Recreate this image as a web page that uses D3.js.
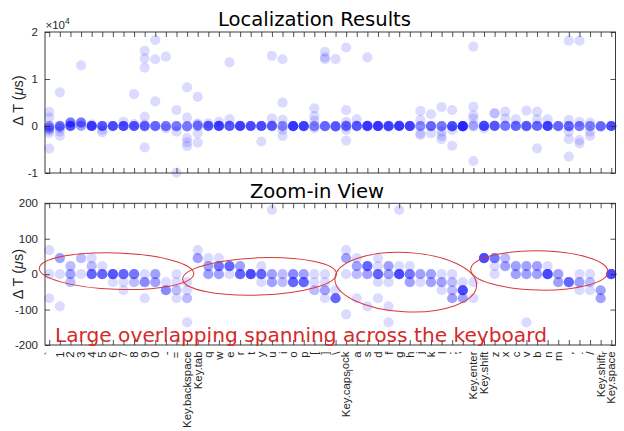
<!DOCTYPE html>
<html><head><meta charset="utf-8">
<script src="https://cdn.jsdelivr.net/npm/d3@7"></script>
<style>body{margin:0;background:#fff} svg{display:block}</style>
</head><body><svg id="c" width="624" height="431"></svg>
<script>
// ---------------- DATA ----------------
const keys = ["`","1","2","3","4","5","6","7","8","9","0","-","=","Key.backspace","Key.tab",
  "q","w","e","r","t","y","u","i","o","p","[","]","\\","Key.caps_lock",
  "a","s","d","f","g","h","j","k","l",";","'","Key.enter","Key.shift",
  "z","x","c","v","b","n","m",",",".","/","Key.shift_r","Key.space"];

// near-zero time differences (µs) per key, as [value, number of samples]
const nearZero = [
  [[68,1],[0,1],[-68,1],[-250,1],[-400,1],[-550,1],[-700,1]],
  [[45.4,3],[0,1],[-90.7,1],[-300,1],[-500,1]],
  [[22.7,2],[0,3],[-22.7,2],[650,1],[700,2],[750,1],[800,1]],
  [[45.4,2],[0,1],[650,1],[700,2],[750,1],[800,1]],
  [[45.4,1],[22.7,2],[0,6],[300,1]],
  [[22.7,1],[0,6]],
  [[0,7],[-22.7,1]],
  [[0,6],[-22.7,1],[-45.4,1]],
  [[0,5],[-22.7,2],[400,1]],
  [[0,1],[-22.7,4],[-68,1],[300,1]],
  [[0,3],[-22.7,3]],
  [[-22.7,1],[-45.4,4]],
  [[0,1],[-22.7,1],[-45.4,2],[-68,1]],
  [[-22.7,1],[-45.4,1],[-68,2],[-136.1,1]],
  [[68,1],[45.4,3],[300,1],[500,1]],
  [[45.4,1],[22.7,3],[0,3]],
  [[45.4,1],[22.7,5],[0,3]],
  [[22.7,6],[0,1]],
  [[22.7,3],[0,6]],
  [[0,8]],
  [[22.7,1],[0,6],[-22.7,1]],
  [[181.4,1],[0,3],[-22.7,3]],
  [[0,2],[-22.7,2]],
  [[0,4],[-22.7,6]],
  [[0,3],[-22.7,6]],
  [[0,1],[-22.7,1],[-45.4,2]],
  [[0,1],[-22.7,1],[-45.4,3],[-68,1]],
  [[-45.4,1],[-68,6]],
  [[68,1],[45.4,3],[0,1],[-113.4,1]],
  [[45.4,1],[22.7,3],[0,2],[-68,1]],
  [[22.7,6],[0,3],[-90.7,1]],
  [[45.4,1],[22.7,1],[0,6],[-22.7,1],[-68,1]],
  [[22.7,3],[0,3],[-22.7,1],[-90.7,1],[-136.1,1]],
  [[181.4,1],[22.7,1],[0,8]],
  [[22.7,1],[0,5],[-22.7,3]],
  [[0,3],[-22.7,1]],
  [[0,3],[-22.7,3]],
  [[0,1],[-22.7,3],[-45.4,1]],
  [[0,1],[-22.7,2],[-45.4,2],[-68,3]],
  [[-22.7,1],[-45.4,8],[-68,3]],
  [[-22.7,1],[-68,1]],
  [[45.4,8]],
  [[45.4,5],[22.7,1],[0,1]],
  [[45.4,2],[22.7,3]],
  [[22.7,3],[0,3]],
  [[22.7,3],[0,3],[-136.1,1]],
  [[22.7,3],[0,3]],
  [[22.7,1],[0,8]],
  [[0,3],[-22.7,3]],
  [[-22.7,6]],
  [[0,1],[-22.7,3],[-45.4,1]],
  [[0,1],[-22.7,2],[-45.4,1]],
  [[-45.4,3],[-68,3]],
  [[0,8]]
];

// large time differences (µs) per key
const outliers = [
  [3000,1800,-1000,-1500,-4800],
  [7160,-1200,-2100],
  [],
  [12900],
  [],
  [-850,-1350],
  [],
  [900],
  [6800],
  [16000,14400,12400,2000,-4540],
  [18300,14200,5250],
  [14750,-500],
  [3400,-1200,-9900],
  [8200,1800,-2600,-3500,-4300],
  [6200,-1560,-3550],
  [570],
  [900],
  [13550,1400],
  [],
  [],
  [-3300],
  [14900,1600],
  [14200,4960,1300,-850,-2100],
  [],
  [],
  [3760,2100,1100,-500],
  [15800,14600,14250],
  [14250],
  [16700,3400,900,-850,-3100],
  [1400],
  [14600],
  [],
  [],
  [],
  [],
  [3200,1300,-1560,-1900],
  [2500,-1560],
  [4000,-1200,-2100,-2800],
  [3400,-850,-4200],
  [],
  [16900,4100,2300,1600,250,-7450],
  [-500],
  [2700,2700],
  [3050,1600],
  [1400],
  [3260],
  [3050,1400,-4750],
  [1400],
  [],
  [18150,1300,-1200,-2800,-6500],
  [18150,900,-3000,-3700],
  [700,-1200,-2100],
  [],
  []
];

const topTicks = [-10000, 0, 10000, 20000];
const zoomTicks = [-200, -100, 0, 100, 200];

// annotation ellipses in data units: centre (key index, µs), radii (keys, µs), tilt (deg)
const ellipses = [
  {ci: 6.35, cv: 8.5,  ri: 7.29, rv: 51.5, tilt: 2},
  {ci: 19.83, cv: -6.5, ri: 7.26, rv: 52.7, tilt: -2},
  {ci: 33.62, cv: -22.5, ri: 6.69, rv: 83.7, tilt: 3},
  {ci: 46.22, cv: 10.4, ri: 6.47, rv: 55.5, tilt: 1}
];

// ---------------- LAYOUT ----------------
const svg = d3.select("#c");
const L = 45, R = 615.5;
const topP = {t: 32, b: 173}, botP = {t: 203.3, b: 345};
const axisColor = "#262626";
const tickFont = "'Liberation Sans', Arial, Helvetica, sans-serif";
const titleFont = "'DejaVu Sans', Verdana, sans-serif";

const x = d3.scalePoint().domain(keys).range([L, R]).padding(0.4);
const xi = d3.scaleLinear().domain([0, keys.length - 1]).range([x(keys[0]), x(keys[keys.length - 1])]);
const yTop = d3.scaleLinear().domain([-10000, 20000]).range([topP.b, topP.t]);
const yBot = d3.scaleLinear().domain([-200, 200]).range([botP.b, botP.t]);

const points = [];
keys.forEach((k, i) => {
  nearZero[i].forEach(([v, n]) => { for (let j = 0; j < n; j++) points.push({k, v}); });
  outliers[i].forEach(v => points.push({k, v}));
});

function dots(g, y, data) {
  g.selectAll("circle").data(data).join("circle")
    .attr("cx", d => x(d.k)).attr("cy", d => y(d.v)).attr("r", 5.1)
    .attr("fill", "#0000ff").attr("fill-opacity", 0.14);
}

function axes(g, y, ticks, fmt) {
  const [yb, yt] = y.range();
  const style = s => {
    s.select(".domain").remove();
    s.selectAll("line").attr("stroke", axisColor).attr("stroke-width", 0.8);
    s.selectAll("text").attr("fill", axisColor).style("font-family", tickFont).style("font-size", "11.5px");
  };
  g.append("g").attr("transform", `translate(0,${yb})`).call(d3.axisBottom(x).tickSize(-5).tickFormat("")).call(style);
  g.append("g").attr("transform", `translate(0,${yt})`).call(d3.axisTop(x).tickSize(-5).tickFormat("")).call(style);
  g.append("g").attr("transform", `translate(${L},0)`).call(d3.axisLeft(y).tickValues(ticks).tickSize(-5).tickPadding(7).tickFormat(fmt)).call(style);
  g.append("g").attr("transform", `translate(${R},0)`).call(d3.axisRight(y).tickValues(ticks).tickSize(-5).tickFormat("")).call(style);
  g.append("rect").attr("x", L).attr("y", yt).attr("width", R - L).attr("height", yb - yt)
    .attr("fill", "none").attr("stroke", axisColor).attr("stroke-width", 0.9);
}

function yLabel(cy) {
  const t = svg.append("text").attr("transform", `translate(23,${cy}) rotate(-90)`)
    .attr("text-anchor", "middle").attr("fill", axisColor)
    .style("font-family", tickFont).style("font-size", "14.5px");
  t.append("tspan").text("\u0394 T (");
  t.append("tspan").style("font-style", "italic").text("\u03BC");
  t.append("tspan").text("s)");
}

// ---- top panel ----
const gTop = svg.append("g");
dots(gTop, yTop, points);
axes(gTop, yTop, topTicks, d => String(d / 10000));
yLabel((topP.t + topP.b) / 2 - 2);
const ex = svg.append("text").attr("x", 45.5).attr("y", 28.5).attr("fill", axisColor)
  .style("font-family", tickFont).style("font-size", "11.5px");
ex.append("tspan").text("\u00D710");
ex.append("tspan").attr("dy", -4.5).style("font-size", "8.5px").text("4");
svg.append("text").attr("x", 314.5).attr("y", 26).attr("text-anchor", "middle")
  .style("font-family", titleFont).style("font-size", "19.6px").text("Localization Results");

// ---- bottom panel ----
const gBot = svg.append("g");
dots(gBot, yBot, points.filter(d => d.v >= -200 && d.v <= 200));
axes(gBot, yBot, zoomTicks, d => String(d));
yLabel((botP.t + botP.b) / 2);
svg.append("text").attr("x", 317).attr("y", 198.3).attr("text-anchor", "middle")
  .style("font-family", titleFont).style("font-size", "19.6px").text("Zoom-in View");

// rotated key labels (TeX-style subscript after "_")
const lab = svg.append("g").selectAll("text").data(keys).join("text")
  .attr("transform", d => `translate(${x(d)},${botP.b + 6.5}) rotate(-90)`)
  .attr("text-anchor", "end").attr("dy", "0.35em").attr("fill", axisColor)
  .style("font-family", tickFont).style("font-size", "11.4px");
lab.each(function(d) {
  const t = d3.select(this);
  const i = d.indexOf("_");
  if (i < 0) { t.text(d); return; }
  t.append("tspan").text(d.slice(0, i));
  t.append("tspan").attr("dy", "0.3em").style("font-size", "8.5px").text(d[i + 1]);
  if (d.length > i + 2) t.append("tspan").attr("dy", "-0.3em").text(d.slice(i + 2));
});

// annotations
const ga = svg.append("g");
ellipses.forEach(e => {
  const cx = xi(e.ci), cy = yBot(e.cv);
  const rx = xi(e.ci + e.ri) - cx, ry = cy - yBot(e.cv + e.rv);
  ga.append("ellipse").attr("cx", cx).attr("cy", cy).attr("rx", rx).attr("ry", ry)
    .attr("transform", `rotate(${e.tilt},${cx},${cy})`)
    .attr("fill", "none").attr("stroke", "#d83a3a").attr("stroke-width", 1);
});
const note = svg.append("text").attr("x", L + 10).attr("y", botP.b - 3.5)
  .attr("fill", "#d42a2a").style("font-family", titleFont).style("font-size", "20px")
  .text("Large overlapping spanning across the keyboard");
const w = note.node().getComputedTextLength();
note.style("font-size", (20 * 492 / w).toFixed(2) + "px");
</script>
</body></html>
